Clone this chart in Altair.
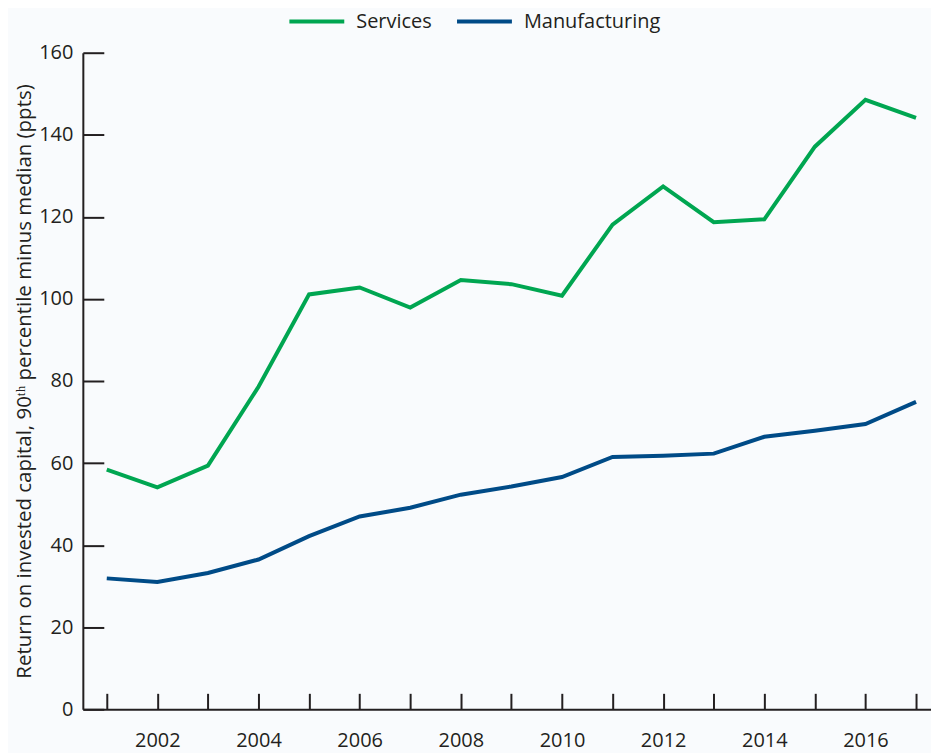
import altair as alt
import pandas as pd

years = list(range(2001, 2018))
services = [58.4, 54.1, 59.4, 78.6, 101.1, 102.8, 97.9, 104.6, 103.6, 100.8,
            118.1, 127.4, 118.7, 119.4, 137.1, 148.5, 144.1]
manufacturing = [31.9, 31.0, 33.2, 36.5, 42.2, 47.0, 49.1, 52.3, 54.3, 56.6,
                 61.5, 61.8, 62.3, 66.4, 67.9, 69.5, 74.9]
series_names = ["Services", "Manufacturing"]
series_colors = ["#00A651", "#004B87"]
y_ticks = [0, 20, 40, 60, 80, 100, 120, 140, 160]
x_label_years = [2002, 2004, 2006, 2008, 2010, 2012, 2014, 2016]
y_title = "Return on invested capital, 90\u1d57\u02b0 percentile minus median (ppts)"

rows = []
for name, vals in zip(series_names, [services, manufacturing]):
    for yr, v in zip(years, vals):
        rows.append({"year": yr, "value": v, "series": name})
df = pd.DataFrame(rows)

W, H = 850, 658
x_dom = [2000.527, 2017.296]
y_dom = [0, 160]
FONT = "Open Sans"
INK = "#231f20"

base = alt.Chart(df)

# Layer with outer axes (labels, domain lines, title)
axes_layer = base.mark_line(opacity=0).encode(
    x=alt.X("year:Q", scale=alt.Scale(domain=x_dom, nice=False, zero=False),
            axis=alt.Axis(orient="bottom", values=x_label_years, format="d",
                          ticks=False, tickSize=0, labelPadding=21, grid=False,
                          domainColor=INK, domainWidth=2, labelFontSize=20,
                          labelColor=INK, labelFont=FONT, title=None)),
    y=alt.Y("value:Q", scale=alt.Scale(domain=y_dom, nice=False),
            axis=alt.Axis(orient="left", values=y_ticks, ticks=False, tickSize=0,
                          labelPadding=10, grid=False, domainColor=INK,
                          domainWidth=2, labelFontSize=20, labelColor=INK,
                          labelFont=FONT, title=y_title, titleFont=FONT,
                          titleFontSize=20.5, titleFontWeight="normal",
                          titleColor=INK, titlePadding=4)),
    detail="series:N",
)

# Layer with the data lines and the inward-pointing ticks
lines_layer = base.mark_line(strokeWidth=4).encode(
    x=alt.X("year:Q", scale=alt.Scale(domain=x_dom, nice=False, zero=False),
            axis=alt.Axis(orient="top", offset=-H, values=years, labels=False,
                          domain=False, grid=False, tickSize=16, tickWidth=2,
                          tickColor=INK, title=None)),
    y=alt.Y("value:Q", scale=alt.Scale(domain=y_dom, nice=False),
            axis=alt.Axis(orient="right", offset=-W, values=y_ticks, labels=False,
                          domain=False, grid=False, tickSize=21, tickWidth=2,
                          tickColor=INK, title=None)),
    color=alt.Color("series:N",
                    scale=alt.Scale(domain=series_names, range=series_colors),
                    legend=alt.Legend(orient="none", legendX=205, legendY=-61,
                                      direction="horizontal", title=None,
                                      symbolType="stroke", symbolSize=3025,
                                      symbolStrokeWidth=4, labelFontSize=20,
                                      labelFont=FONT, labelColor=INK,
                                      labelOffset=10, columnPadding=17)),
)

chart = alt.layer(axes_layer, lines_layer).resolve_scale(
    x="independent", y="independent"
).properties(
    width=W, height=H,
    autosize=alt.AutoSizeParams(type="none"),
    padding={"left": 75, "top": 44, "right": 0, "bottom": 44},
    background="#F9FBFD",
).configure_view(stroke=None)

chart.save("out.html", embed_options={"renderer": "svg", "actions": False})
